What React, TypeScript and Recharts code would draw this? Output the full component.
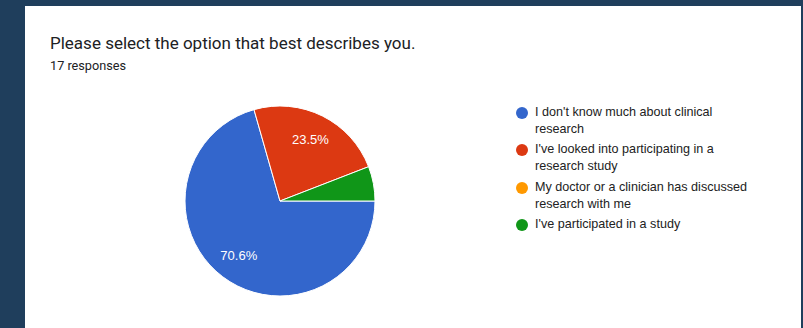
import React from 'react'
import { PieChart, Pie, Cell } from 'recharts'

const categories = [
  "I don't know much about clinical research",
  "I've looked into participating in a research study",
  'My doctor or a clinician has discussed research with me',
  "I've participated in a study",
]
const counts = [12, 4, 0, 1]
const COLORS = ['#3366cc', '#dc3912', '#ff9900', '#109618']

const data = categories.map((name, i) => ({ name, value: counts[i] }))
const total = counts.reduce((a, b) => a + b, 0)

const RAD = Math.PI / 180

function renderLabel(p: any) {
  const { cx, cy, midAngle, outerRadius, value } = p
  const share = value / total
  if (share < 0.1) return null
  const r = outerRadius * 0.72
  const x = cx + r * Math.cos(-midAngle * RAD)
  const y = cy + r * Math.sin(-midAngle * RAD)
  return (
    <text x={x} y={y} fill="#fff" fontSize={13} fontFamily="Arial, 'Liberation Sans', sans-serif"
      textAnchor="middle" dominantBaseline="central">
      {(share * 100).toFixed(1)}%
    </text>
  )
}

function LegendBox() {
  return (
    <div style={{ fontFamily: "Arial, 'Liberation Sans', sans-serif", fontSize: 12.6, color: '#222' }}>
      {data.map((d, i) => (
        <div key={d.name} style={{ display: 'flex', alignItems: 'flex-start', marginBottom: 3.4 }}>
          <span style={{ width: 12, height: 12, borderRadius: 6, background: COLORS[i], marginTop: 3, marginRight: 7, flex: 'none' }} />
          <span style={{ width: 222, lineHeight: '17px' }}>{d.name}</span>
        </div>
      ))}
    </div>
  )
}

export default function App() {
  return (
    <div style={{ position: 'absolute', left: 0, top: 0, width: 803, height: 328, background: '#1f3e5c', overflow: 'hidden' }}>
      <div style={{ position: 'absolute', left: 25, top: 6, width: 776, height: 330, background: '#fff' }} />
      <div style={{ position: 'absolute', left: 50, top: 33, fontFamily: 'Roboto, sans-serif', fontSize: 17, color: '#202124' }}>
        Please select the option that best describes you.
      </div>
      <div style={{ position: 'absolute', left: 50, top: 58, fontFamily: 'Roboto, sans-serif', fontSize: 12.7, color: '#202124' }}>
        17 responses
      </div>
      <div style={{ position: 'absolute', left: 0, top: 0 }}>
        <PieChart width={803} height={328} margin={{ top: 0, right: 0, bottom: 0, left: 0 }}>
          <Pie data={data} dataKey="value" nameKey="name" cx={280} cy={201} outerRadius={95}
            startAngle={0} endAngle={-360} stroke="#fff" strokeWidth={1}
            label={renderLabel} labelLine={false} isAnimationActive={false}>
            {data.map((d, i) => <Cell key={d.name} fill={COLORS[i]} />)}
          </Pie>
        </PieChart>
      </div>
      <div style={{ position: 'absolute', left: 516, top: 104 }}>
        <LegendBox />
      </div>
    </div>
  )
}
